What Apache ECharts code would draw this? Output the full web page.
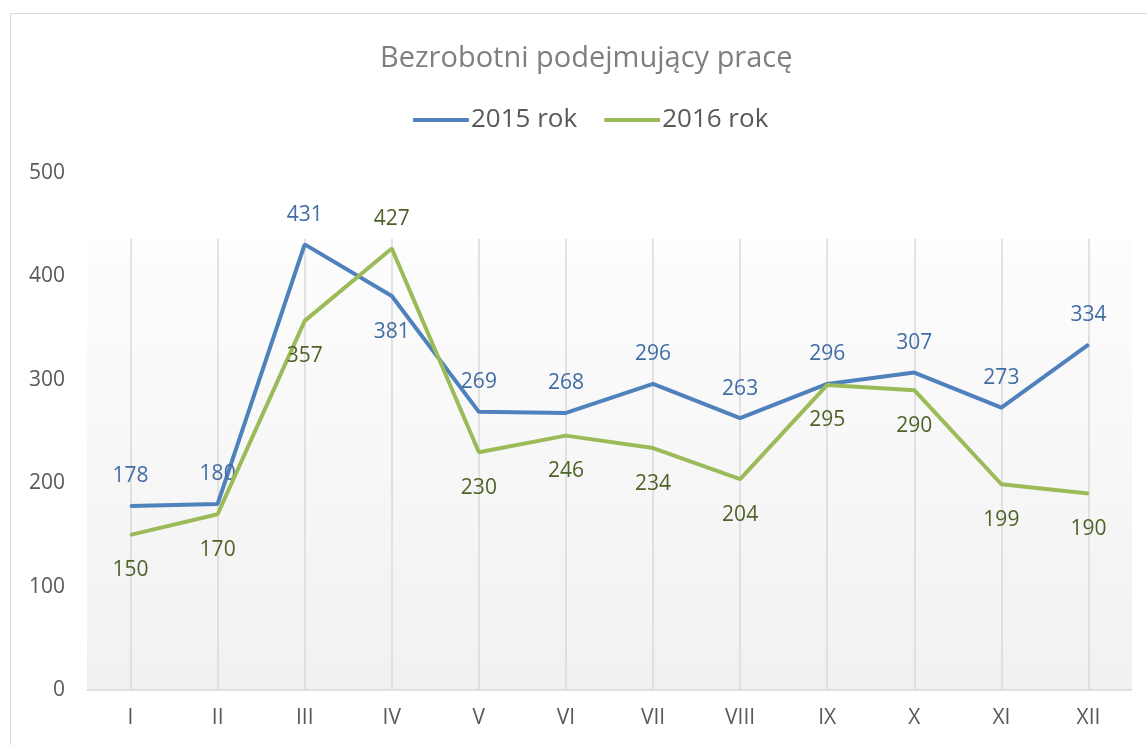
<!DOCTYPE html>
<html>
<head>
<meta charset="utf-8">
<script src="https://cdn.jsdelivr.net/npm/echarts@6/dist/echarts.min.js"></script>
<style>
  html, body { margin: 0; padding: 0; background: #fff; }
  #frame { position: absolute; left: 10px; top: 13px; width: 1200px; height: 800px; border: 1px solid #d9d9d9; box-sizing: border-box; }
  #chart { position: absolute; left: 0; top: 0; width: 1147px; height: 745px; }
</style>
</head>
<body>
<div id="frame"></div>
<div id="chart"></div>
<script>
const months = ['I', 'II', 'III', 'IV', 'V', 'VI', 'VII', 'VIII', 'IX', 'X', 'XI', 'XII'];
const values2015 = [178, 180, 431, 381, 269, 268, 296, 263, 296, 307, 273, 334];
const values2016 = [150, 170, 357, 427, 230, 246, 234, 204, 295, 290, 199, 190];
const yTicks = [0, 100, 200, 300, 400, 500];

const FONT = '"Open Sans", "Noto Sans", sans-serif';
const BLUE = '#4f81bd';
const GREEN = '#9bbb59';

// label above the point by default for 2015, below for 2016; exceptions listed here
const flip2015 = [3];
const flip2016 = [3];

function withLabels(values, defaultPos, flips, color) {
  return values.map((v, i) => {
    const pos = flips.includes(i) ? (defaultPos === 'top' ? 'bottom' : 'top') : defaultPos;
    return { value: v, label: { position: pos, color, distance: pos === 'top' ? 18 : 24 } };
  });
}

// plot fill and vertical gridlines only start a bit below the 500 line
const fillStart = 0.13;

const chart = echarts.init(document.getElementById('chart'));

chart.setOption({
  backgroundColor: 'transparent',
  animation: false,
  title: {
    text: 'Bezrobotni podejmujący pracę',
    left: 375,
    top: 39,
    textStyle: { fontFamily: FONT, fontSize: 29, fontWeight: 'normal', color: '#7f7f7f' }
  },
  legend: {
    top: 107,
    left: 413,
    padding: 0,
    itemWidth: 56,
    itemHeight: 4,
    itemGap: 27,
    icon: 'roundRect',
    textStyle: { fontFamily: FONT, fontSize: 26, color: '#595959', padding: [0, 0, 0, -3] },
    data: [
      { name: '2015 rok', itemStyle: { color: BLUE, opacity: 1 } },
      { name: '2016 rok', itemStyle: { color: GREEN, opacity: 1 } }
    ]
  },
  grid: {
    left: 87,
    right: 15,
    top: 173,
    bottom: 55,
    show: true,
    borderWidth: 0,
    backgroundColor: {
      type: 'linear', x: 0, y: 0, x2: 0, y2: 1,
      colorStops: [
        { offset: 0, color: '#ffffff' },
        { offset: fillStart, color: '#ffffff' },
        { offset: fillStart + 0.001, color: '#fdfdfd' },
        { offset: 1, color: '#f1f1f1' }
      ]
    }
  },
  xAxis: {
    type: 'category',
    data: months,
    boundaryGap: true,
    axisLine: { lineStyle: { color: '#d9d9d9', width: 1.5 } },
    axisTick: { show: false },
    axisLabel: { fontFamily: FONT, fontSize: 21, color: '#595959', margin: 18 },
    splitLine: {
      show: true,
      alignWithLabel: true,
      lineStyle: {
        width: 1.5,
        color: {
          type: 'linear', x: 0, y: 0, x2: 0, y2: 1,
          colorStops: [
            { offset: 0, color: 'rgba(217,217,217,0)' },
            { offset: fillStart, color: 'rgba(217,217,217,0)' },
            { offset: fillStart + 0.001, color: 'rgba(217,217,217,1)' },
            { offset: 1, color: 'rgba(217,217,217,1)' }
          ]
        }
      }
    }
  },
  yAxis: {
    type: 'value',
    min: yTicks[0],
    max: yTicks[yTicks.length - 1],
    interval: 100,
    axisLine: { show: false },
    axisTick: { show: false },
    splitLine: { show: false },
    axisLabel: { fontFamily: FONT, fontSize: 21, color: '#595959', margin: 22 }
  },
  series: [
    {
      name: '2015 rok',
      type: 'line',
      data: withLabels(values2015, 'top', flip2015, '#416da5'),
      symbol: 'circle',
      symbolSize: 2,
      showAllSymbol: true,
      lineStyle: { color: BLUE, width: 4 },
      itemStyle: { color: BLUE },
      label: { show: true, fontFamily: FONT, fontSize: 21 },
      z: 3
    },
    {
      name: '2016 rok',
      type: 'line',
      data: withLabels(values2016, 'bottom', flip2016, '#4f6228'),
      symbol: 'circle',
      symbolSize: 2,
      showAllSymbol: true,
      lineStyle: { color: GREEN, width: 4 },
      itemStyle: { color: GREEN },
      label: { show: true, fontFamily: FONT, fontSize: 21 },
      z: 4
    }
  ]
});
window.addEventListener('resize', () => chart.resize());
</script>
</body>
</html>
